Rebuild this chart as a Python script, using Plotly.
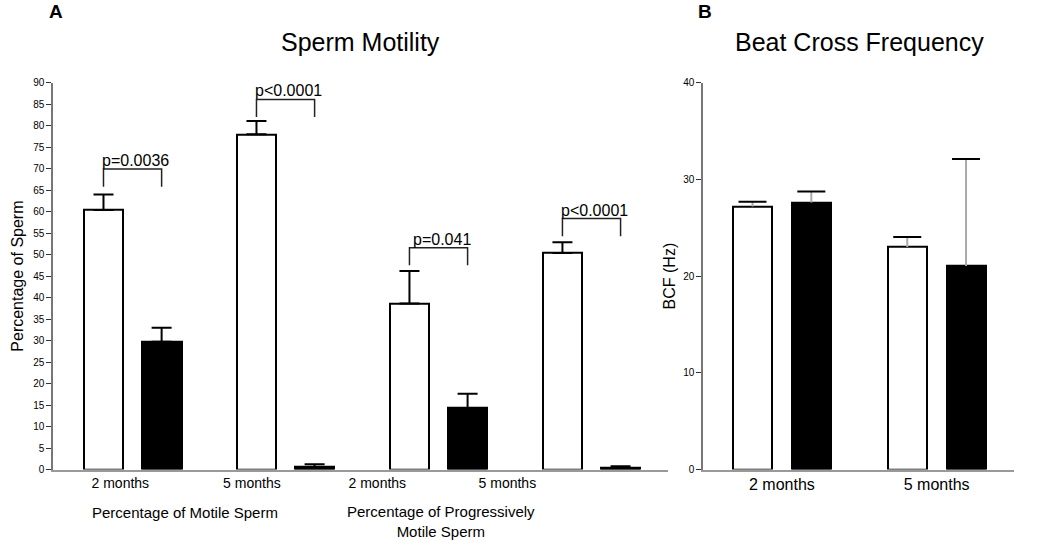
import plotly.graph_objects as go

# panel A: sperm motility (%)
groups_a = [1, 2, 3, 4]
tick_pos_a = [0.92, 1.78, 2.60, 3.45]
tick_text_a = ["2 months", "5 months", "2 months", "5 months"]
white_a = [60.4, 78.0, 38.6, 50.4]
white_a_err = [3.6, 3.1, 7.6, 2.5]
black_a = [29.7, 0.6, 14.3, 0.45]
black_a_err = [3.3, 0.6, 3.3, 0.3]
p_labels = ["p=0.0036", "p<0.0001", "p=0.041", "p<0.0001"]
bracket_y = [69.9, 86.1, 51.6, 58.4]

# panel B: beat cross frequency (Hz)
groups_b = [1, 2]
tick_text_b = ["2 months", "5 months"]
white_b = [27.2, 23.0]
white_b_err = [0.5, 1.05]
black_b = [27.6, 21.05]
black_b_err = [1.15, 11.05]

off = 0.19
bw = 0.26
fnt = "Liberation Sans, Arial, sans-serif"
W, H = 1050, 541

fig = go.Figure()

# panel A bars
fig.add_trace(go.Bar(x=[g - off for g in groups_a], y=white_a, width=bw,
                     marker=dict(color="white", line=dict(color="black", width=2)),
                     error_y=dict(type="data", array=white_a_err, arrayminus=[0] * 4, symmetric=False,
                                  color="black", thickness=2, width=10),
                     xaxis="x", yaxis="y", showlegend=False))
fig.add_trace(go.Bar(x=[g + off for g in groups_a], y=black_a, width=bw,
                     marker=dict(color="black", line=dict(color="black", width=2)),
                     error_y=dict(type="data", array=black_a_err, arrayminus=[0] * 4, symmetric=False,
                                  color="black", thickness=2, width=10),
                     xaxis="x", yaxis="y", showlegend=False))

# significance brackets
for g, yb, txt in zip(groups_a, bracket_y, p_labels):
    fig.add_trace(go.Scatter(x=[g - off, g - off, g + off, g + off], y=[yb - 4.1, yb, yb, yb - 4.1],
                             mode="lines", line=dict(color="#222", width=1.5),
                             xaxis="x", yaxis="y", showlegend=False, hoverinfo="skip"))
    fig.add_annotation(x=g + 0.02, y=yb, xref="x", yref="y", text=txt, showarrow=False,
                       xanchor="center", yanchor="bottom", yshift=-2,
                       font=dict(family=fnt, size=16, color="black"))

# panel B bars
fig.add_trace(go.Bar(x=[g - off for g in groups_b], y=white_b, width=0.252,
                     marker=dict(color="white", line=dict(color="black", width=2)),
                     error_y=dict(type="data", array=white_b_err, arrayminus=[0] * 2, symmetric=False,
                                  color="#aaaaaa", thickness=2, width=0),
                     xaxis="x2", yaxis="y2", showlegend=False))
fig.add_trace(go.Bar(x=[g + off for g in groups_b], y=black_b, width=0.252,
                     marker=dict(color="black", line=dict(color="black", width=2)),
                     error_y=dict(type="data", array=black_b_err, arrayminus=[0] * 2, symmetric=False,
                                  color="#aaaaaa", thickness=2, width=0),
                     xaxis="x2", yaxis="y2", showlegend=False))
# black caps on panel B error bars
cap_x = [g - off for g in groups_b] + [g + off for g in groups_b]
cap_y = [v + e for v, e in zip(white_b, white_b_err)] + [v + e for v, e in zip(black_b, black_b_err)]
fig.add_trace(go.Scatter(x=cap_x, y=cap_y, mode="markers",
                         marker=dict(symbol="line-ew", size=20, line=dict(color="black", width=2)),
                         xaxis="x2", yaxis="y2", showlegend=False, hoverinfo="skip"))

y_dom = [1 - 469.5 / H, 1 - 82.7 / H]
fig.update_layout(
    width=W, height=H,
    margin=dict(l=0, r=0, t=0, b=0),
    paper_bgcolor="white", plot_bgcolor="white",
    font=dict(family=fnt, color="black"),
    bargap=0,
    xaxis=dict(domain=[53 / W, 668 / W], range=[0.48, 4.5], tickvals=tick_pos_a, ticktext=tick_text_a,
               showline=True, linecolor="#999", linewidth=1.5, ticks="", showgrid=False, zeroline=False,
               tickfont=dict(size=14), anchor="y", automargin=False),
    yaxis=dict(domain=y_dom, range=[0, 90], tickvals=list(range(0, 91, 5)),
               showline=True, linecolor="#777", linewidth=1.5, ticks="outside", ticklen=5,
               tickcolor="#333", showgrid=False, zeroline=False, tickfont=dict(size=10),
               title=dict(text="Percentage of Sperm", font=dict(size=16), standoff=6), anchor="x",
               automargin=False),
    xaxis2=dict(domain=[703 / W, 1014 / W], range=[0.49, 2.5], tickvals=groups_b, ticktext=tick_text_b,
                showline=True, linecolor="#999", linewidth=1.5, ticks="", showgrid=False, zeroline=False,
                tickfont=dict(size=16), anchor="y2", automargin=False),
    yaxis2=dict(domain=y_dom, range=[0, 40], tickvals=[0, 10, 20, 30, 40],
                showline=True, linecolor="#777", linewidth=1.5, ticks="outside", ticklen=5,
                tickcolor="#333", showgrid=False, zeroline=False, tickfont=dict(size=10),
                title=dict(text="BCF (Hz)", font=dict(size=16), standoff=4), anchor="x2",
                automargin=False),
)


def label(px, py, text, size):
    fig.add_annotation(x=px / W, y=1 - py / H, xref="paper", yref="paper", text=text,
                       showarrow=False, xanchor="center", yanchor="middle", font=dict(size=size))


# panel letters, titles and group labels
label(56, 12, "<b>A</b>", 19)
label(705, 12, "<b>B</b>", 19)
label(360, 42, "Sperm Motility", 25)
label(859, 42, "Beat Cross Frequency", 25)
label(185, 512, "Percentage of Motile Sperm", 15)
label(441, 521, "Percentage of Progressively<br>Motile Sperm", 15)

fig.write_html("out.html", config={"displayModeBar": False},
               post_script="document.body.style.margin='0';")
